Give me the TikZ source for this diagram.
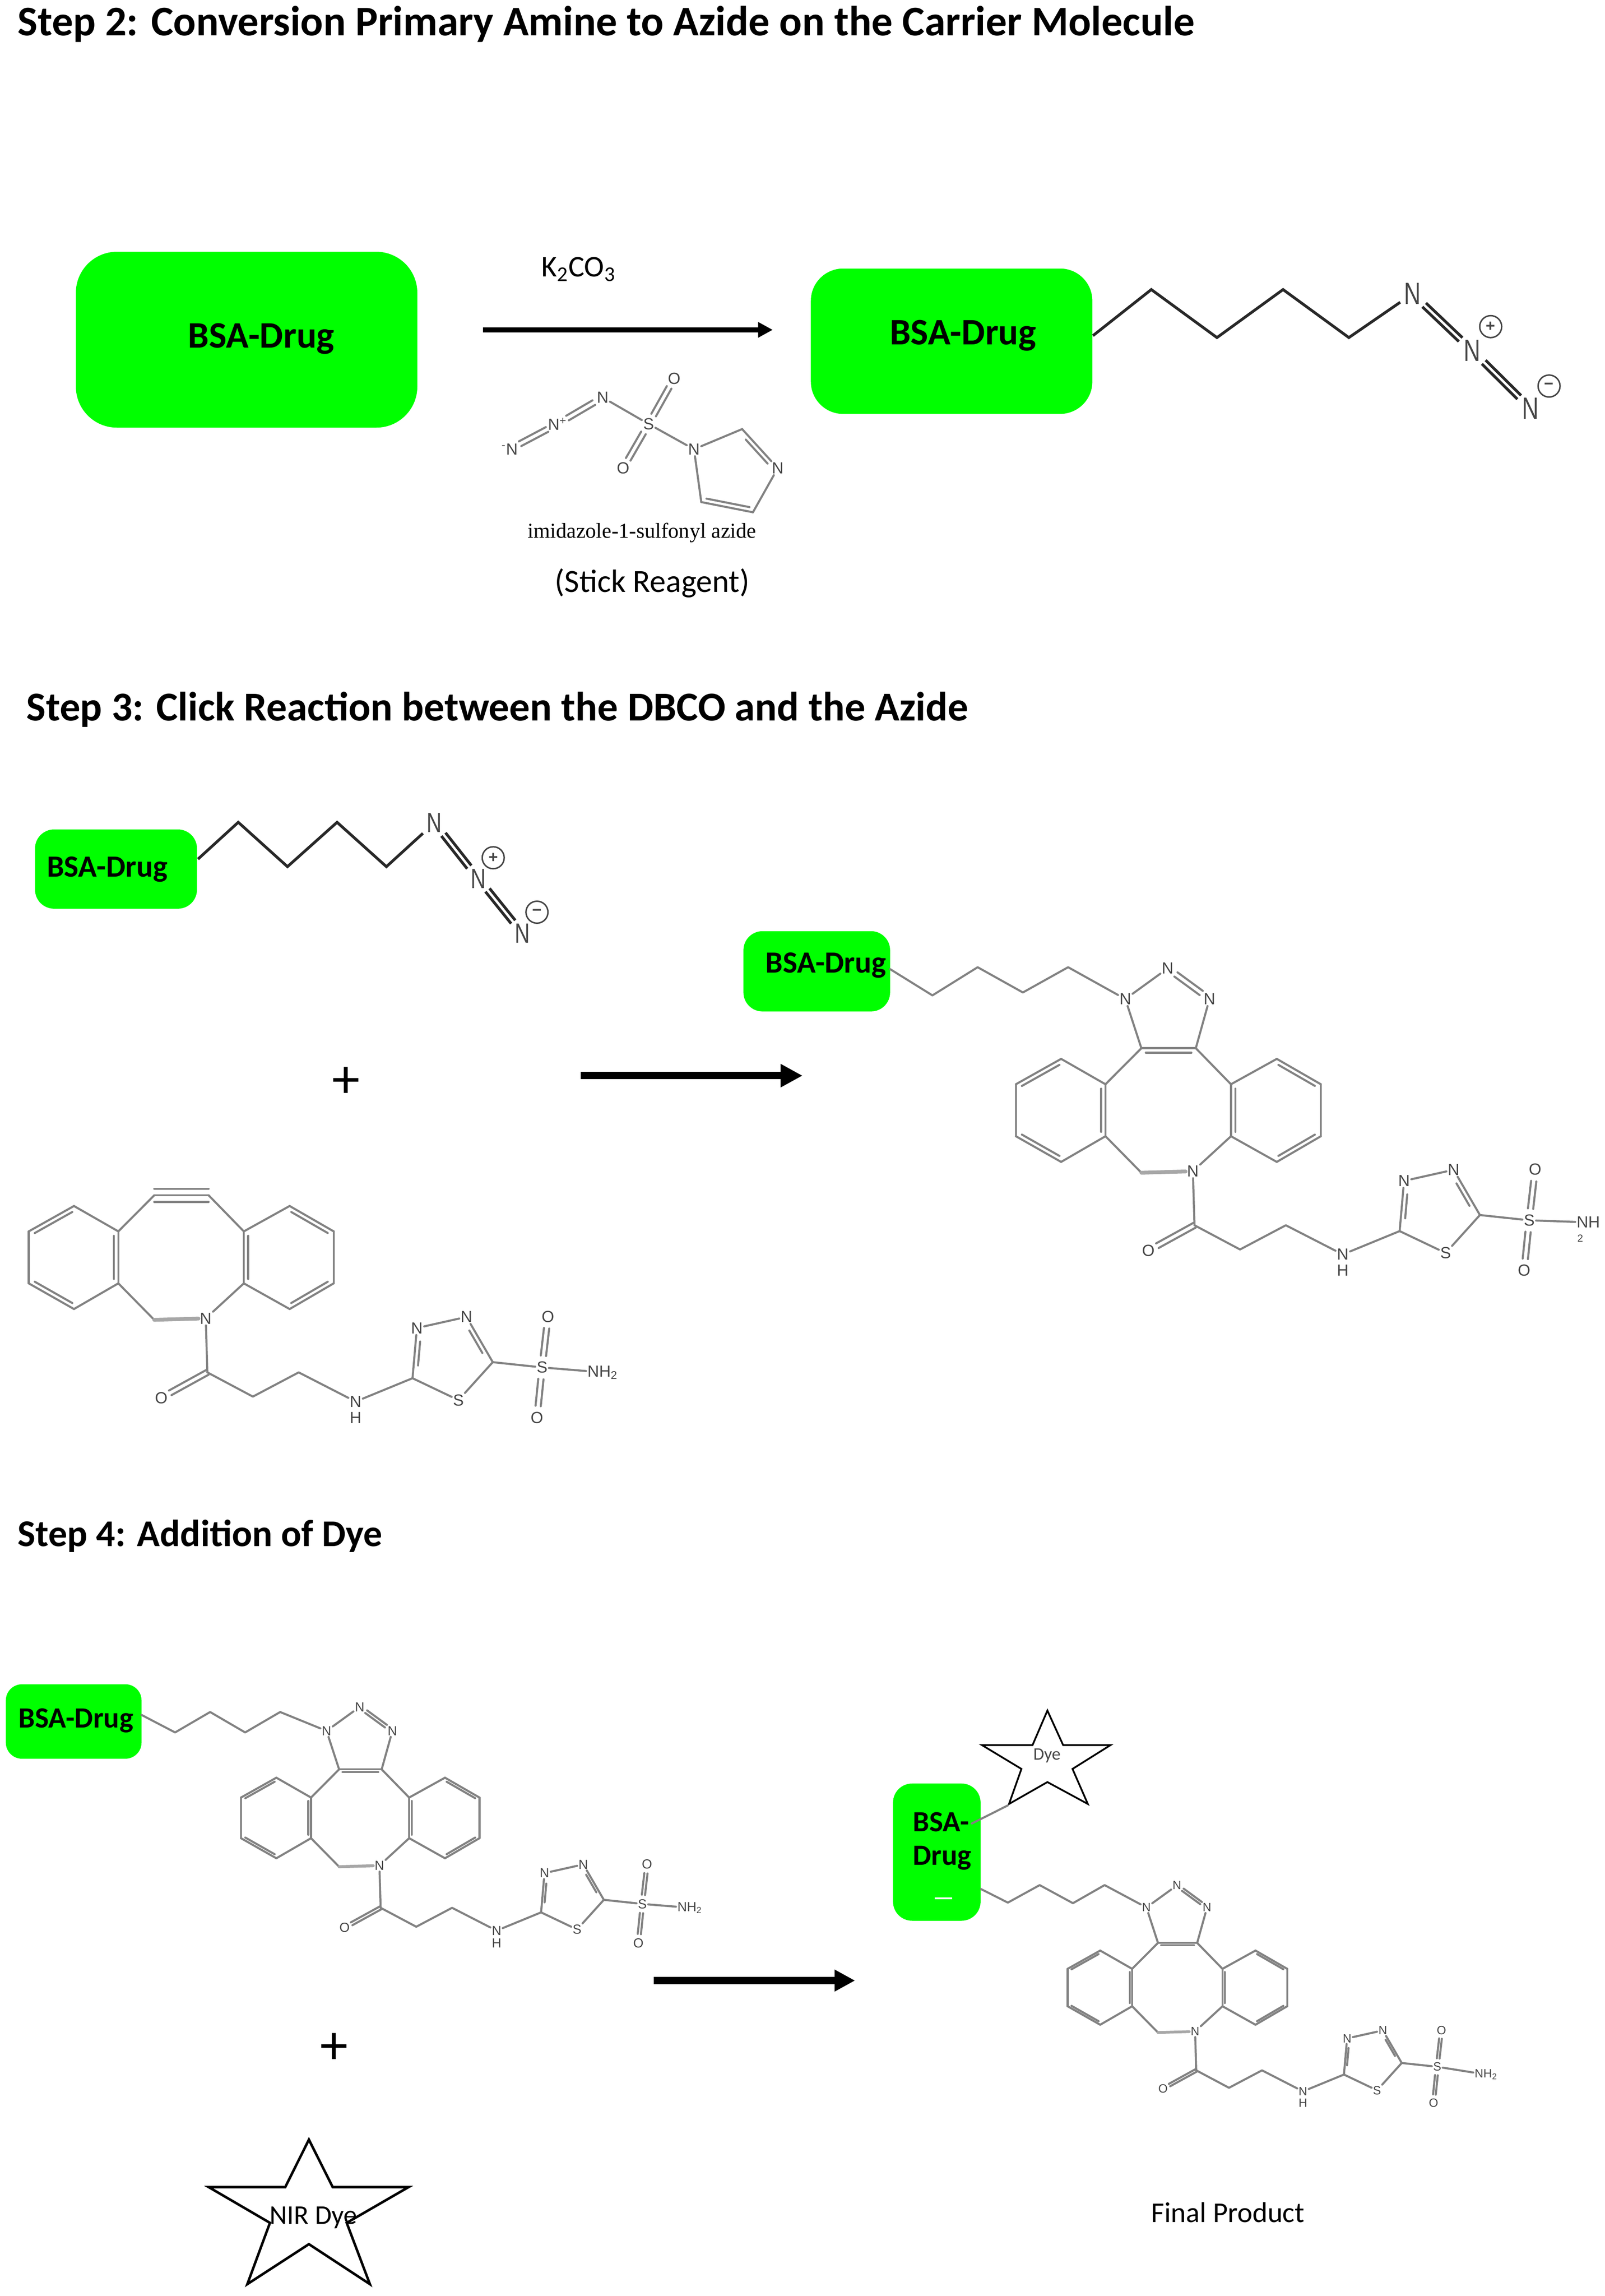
\documentclass[tikz,border=0pt]{standalone}
\usepackage{fontspec}
\setmainfont{Carlito}
\newfontfamily\atomf{Liberation Sans}
\newfontfamily\tallf[FakeStretch=.75]{Liberation Sans}
\newfontfamily\serf{Liberation Serif}
\usetikzlibrary{calc,arrows.meta,fit}
\definecolor{gfp}{RGB}{0,255,0}
\definecolor{bondgray}{RGB}{130,130,130}
\definecolor{atomgray}{RGB}{70,70,70}
\definecolor{darkbond}{RGB}{40,40,40}
\def\molscale{1}
\def\molsep{3pt}
\newcommand\fs[1]{\fontsize{#1}{#1}\selectfont}
\tikzset{
  bond/.style={draw=bondgray,line width=1.4pt,line cap=round,line join=round},
  fatbond/.style={draw=bondgray!70,line width=2.6pt*\molscale},
  azbond/.style={draw=darkbond,line width=1.9pt,line join=miter},
  atom/.style={inner sep=.8pt,text=atomgray,font=\atomf\fs{10}},
  tall/.style={inner sep=2.5pt,text=atomgray,font=\tallf\fs{21}},
  charge/.style={circle,draw=atomgray,line width=1pt,inner sep=0pt,minimum size=15pt,text=atomgray,font=\atomf\bfseries\fs{11}},
  gbox/.style={fill=gfp,draw=none,inner sep=0pt},
  boxtext/.style={inner sep=0pt,font=\bfseries\fs{#1}},
  head/.style={anchor=west,inner sep=0pt,font=\bfseries\fs{#1}},
  plain/.style={inner sep=0pt,font=\fs{#1}},
  star/.style={draw=black,line width=1.7pt,line join=miter,fill=white},
  arr/.style={draw=black,-{Triangle[length=#1pt,width=#1pt]}}
}
% double bond with inner line
\newcommand\dblin[3][3]{%
  \pgfmathsetlengthmacro\tmpsh{#1*\molscale}%
  \draw[bond] (#2)--(#3);
  \draw[bond,shorten <=\tmpsh,shorten >=\tmpsh] ($(#2)!\molsep!90:(#3)$)--($(#3)!\molsep!-90:(#2)$);
}
% symmetric double bond
\newcommand\dblsym[4]{%
  \pgfmathsetlengthmacro\tmpa{#3*\molscale}%
  \pgfmathsetlengthmacro\tmpb{#4*\molscale}%
  \draw[bond,shorten <=\tmpa,shorten >=\tmpb] ($(#1)!.6*\molsep!90:(#2)$)--($(#2)!.6*\molsep!-90:(#1)$);
  \draw[bond,shorten <=\tmpa,shorten >=\tmpb] ($(#1)!-.6*\molsep!90:(#2)$)--($(#2)!-.6*\molsep!-90:(#1)$);
}
% common part of the molecules: benzo rings, amide, thiadiazole; #1 font size, #2 NH2 label body
\newcommand\molcore[2]{%
  \tikzset{atom/.append style={font=\atomf\fs{#1}}}
  \coordinate (a1) at (-90.3,-78); \coordinate (a2) at (-121.3,-60.6);
  \coordinate (a3) at (-121.3,-25); \coordinate (a4) at (-90.3,-7.4);
  \coordinate (a5) at (-59.9,-25); \coordinate (a6) at (-59.9,-60.6);
  \coordinate (b1) at (57.5,-78); \coordinate (b2) at (87.7,-60.6);
  \coordinate (b3) at (87.7,-25); \coordinate (b4) at (57.5,-7.4);
  \coordinate (b5) at (26.1,-25); \coordinate (b6) at (26.1,-60.6);
  \coordinate (c1) at (-35.3,-85.3); \coordinate (c2) at (2,-85.3);
  \coordinate (d) at (-35.3,0);
  \node[atom] (N) at (0,-1) {N};
  \coordinate (e) at (1.1,36);
  \node[atom] (O) at (-30.5,53.4) {O};
  \coordinate (f) at (32.3,52.6); \coordinate (g) at (63.7,36);
  \node[atom] (NH) at (102.7,56) {N};
  \node[atom] (HH) at (102.7,67) {H};
  \coordinate (t1) at (141.7,40);
  \node[atom] (t2) at (144.7,5.6) {N};
  \node[atom] (t3) at (178.7,-2) {N};
  \coordinate (t4) at (196.7,29);
  \node[atom] (t5) at (173.2,55) {S};
  \node[atom] (SS) at (230.5,32.6) {S};
  \node[atom] (Ot) at (234.5,-2.2) {O};
  \node[atom] (Ob) at (227,67) {O};
  #2
  \dblin{a1}{a2} \draw[bond] (a2)--(a3); \dblin{a3}{a4} \draw[bond] (a4)--(a5);
  \dblin{a5}{a6} \draw[bond] (a6)--(a1);
  \dblin{b2}{b1} \draw[bond] (b2)--(b3); \dblin{b4}{b3} \draw[bond] (b4)--(b5);
  \dblin{b6}{b5} \draw[bond] (b6)--(b1);
  \draw[bond] (a6)--(c1); \draw[bond] (c2)--(b6);
  \draw[bond] (a5)--(d); \draw[bond,fatbond] (d)--(N); \draw[bond] (N)--(b5);
  \draw[bond] (N)--(e);
  \dblsym{e}{O}{0}{7}
  \draw[bond] (e)--(f)--(g)--(NH); \draw[bond] (NH)--(t1);
  \dblin[9]{t2}{t1} \draw[bond] (t2)--(t3); \dblin[9]{t4}{t3}
  \draw[bond] (t4)--(t5); \draw[bond] (t5)--(t1);
  \draw[bond] (t4)--(SS);
  \dblsym{SS}{Ot}{8}{8} \dblsym{SS}{Ob}{8}{8}
  \draw[bond] (SS)--(AM);
}
\newcommand\molsetup[1]{\def\molscale{#1}\pgfmathsetlengthmacro\molsep{3pt*#1}}
\newcommand\triazole{%
  \node[atom] (n1) at (-46.3,-119) {N};
  \node[atom] (n2) at (-17.3,-140) {N};
  \node[atom] (n3) at (11.4,-119) {N};
  \draw[bond] (n1)--(n2); \dblsym{n2}{n3}{7}{7}
  \draw[bond] (n1)--(c1); \draw[bond] (n3)--(c2);
  \dblin{c2}{c1}
}
\begin{document}
\begin{tikzpicture}[x=.035cm,y=-.035cm]
\useasboundingbox (0,0) rectangle (1099.714,1573.143);

% ---------- headings
\node[head=28.8] (h2) at (12,16.5) {Step 2: Conversion Primary Amine to Azide on the Carrier Molecule};
\node[head=28] (h3) at (18,486) {Step 3: Click Reaction between the DBCO and the Azide};
\node[head=25.8] (h4) at (12,1052.5) {Step 4: Addition of Dye};

% ---------- Step 2
\node[gbox,rounded corners=28pt,fit={(52,172.5)(286,293)}] (box1) {};
\node[boxtext=25.5] (box1t) at (179,232) {BSA-Drug};
\coordinate (s1) at (331,226); \coordinate (e1) at (529.6,226);
\draw[arr=10,line width=3.5pt] (s1)--(e1);
\node[plain=20.5] (k2co3) at (396.5,184.5) {K\textsubscript{2}CO\textsubscript{3}};

\node[gbox,rounded corners=22pt,fit={(555.7,184)(748.6,283.6)}] (box2) {};
\node[boxtext=25.5] (box2t) at (660,230) {BSA-Drug};
\begin{scope}[bond/.style={azbond}]
  \coordinate (z0) at (749,230);
  \node[tall] (az1) at (968,201.3) {N};
  \node[tall] (az2) at (1009,240.3) {N};
  \node[tall] (az3) at (1049,280) {N};
  \draw[azbond] (z0)--(789,198.4)--(834,231.3)--(879.3,198.4)--(924.4,231.3)--(az1);
  \dblsym{az1}{az2}{11}{11}
  \dblsym{az2}{az3}{11}{11}
\end{scope}
\node[charge] (pl1) at (1021.6,223.8) {+};
\node[charge] (mi1) at (1061.6,264.5) {−};

% reagent
\begin{scope}
  \tikzset{atom/.append style={font=\atomf\fs{11}}}
  \node[atom] (r1) at (349.3,307.8) {\textsuperscript{-}N};
  \node[atom] (r2) at (382,290.5) {N\textsuperscript{+}};
  \node[atom] (r3) at (413,272.3) {N};
  \node[atom] (rS) at (444.5,290.5) {S};
  \node[atom] (rO1) at (462,259.3) {O};
  \node[atom] (rO2) at (427,320.8) {O};
  \node[atom] (rN) at (475.6,307.8) {N};
  \coordinate (rC1) at (508.6,294);
  \node[atom] (rN2) at (533,320.8) {N};
  \coordinate (rC2) at (516,351);
  \coordinate (rC3) at (480.6,344);
  \dblsym{r1}{r2}{8}{8} \dblsym{r2}{r3}{8}{7}
  \draw[bond] (r3)--(rS); \dblsym{rS}{rO1}{7}{7} \dblsym{rS}{rO2}{7}{7}
  \draw[bond] (rS)--(rN); \draw[bond] (rN)--(rC1);
  \dblin[7]{rN2}{rC1} \draw[bond] (rN2)--(rC2); \dblin[3]{rC3}{rC2}
  \draw[bond] (rC3)--(rN);
\end{scope}
\node[plain=14,font=\serf\fs{14.5}] (rname) at (440,365) {imidazole-1-sulfonyl azide};
\node[plain=22] (stick) at (447,399.5) {(Stick Reagent)};

% ---------- Step 3, left
\node[gbox,rounded corners=13pt,fit={(24,568.3)(135,622.6)}] (box3) {};
\node[boxtext=21] (box3t) at (73.5,595.5) {BSA-Drug};
\begin{scope}[bond/.style={azbond}]
  \coordinate (z3) at (135.7,588.6);
  \node[tall,font=\tallf\fs{19}] (bz1) at (297.7,563.8) {N};
  \node[tall,font=\tallf\fs{19}] (bz2) at (327.8,602) {N};
  \node[tall,font=\tallf\fs{19}] (bz3) at (358,639.5) {N};
  \draw[azbond] (z3)--(163.3,563.4)--(197,593.8)--(231,563.4)--(264.8,593.8)--(bz1);
  \dblsym{bz1}{bz2}{10}{10}
  \dblsym{bz2}{bz3}{10}{10}
\end{scope}
\node[charge] (pl2) at (338,587.7) {+};
\node[charge] (mi2) at (368,625) {−};
\node[plain=38] (plus1) at (237,741.5) {+};

\begin{scope}[shift={(141,904.3)},name prefix=A-]
  \molsetup{1}
  \molcore{11}{\node[atom] (AM) at (272,36) {NH\textsubscript{2}};}
  \draw[bond] (c1)--(c2);
  \draw[bond] ($(c1)+(0,-4.5)$)--($(c2)+(0,-4.5)$);
  \draw[bond] ($(c1)+(0,4.5)$)--($(c2)+(0,4.5)$);
\end{scope}

\coordinate (s2) at (398,737); \coordinate (e2) at (550,737);
\draw[arr=15,line width=5pt] (s2)--(e2);

% ---------- Step 3, right
\node[gbox,rounded corners=13pt,fit={(509.5,638)(610,693)}] (box4) {};
\node[boxtext=21] (box4t) at (566,661.5) {BSA-Drug};
\begin{scope}[shift={(817.5,803.5)},name prefix=B-]
  \molsetup{1}
  \molcore{11}{\node[atom] (AM) at (271,34) {NH};}
  \node[atom,font=\atomf\fs{7}] (AM2) at (265.5,45) {2};
  \triazole
\end{scope}
\coordinate (z4) at (610,664);
\draw[bond] (z4)--(639,682)--(670,662.7)--(701,680)--(732,662.7)--(B-n1);

% ---------- Step 4, left
\node[gbox,rounded corners=11pt,fit={(4,1154)(97,1205)}] (box5) {};
\node[boxtext=20] (box5t) at (52,1179) {BSA-Drug};
\begin{scope}[shift={(260,1279)},scale=.782,name prefix=C-]
  \molsetup{.782}
  \molcore{9}{\node[atom] (AM) at (272,36) {NH\textsubscript{2}};}
  \triazole
\end{scope}
\coordinate (z5) at (97,1175);
\draw[bond] (z5)--(120,1187)--(144,1173)--(168,1187)--(192,1173)--(C-n1);
\node[plain=38] (plus2) at (229,1403.5) {+};

\path[star] (211.7,1466)--(228,1498.5)--(280,1498.5)--(237.6,1523)--(253.5,1565)--(211.7,1537.6)--(169.5,1565)--(185,1523)--(143,1498.5)--(195.5,1498.5)--cycle;
\node[plain=18.5] (nir) at (214.8,1519.5) {NIR Dye};

\coordinate (s3) at (448,1357); \coordinate (e3) at (586,1357);
\draw[arr=14,line width=5pt] (s3)--(e3);

% ---------- Step 4, right
\path[star,line width=1.2pt] (717.8,1172)--(728.6,1195.7)--(761,1195.7)--(735,1212)--(745.5,1236)--(717.8,1221)--(691.5,1236)--(700,1212)--(673,1195.7)--(707.6,1195.7)--cycle;
\node[plain=12,text=atomgray] (dye) at (717.5,1203) {Dye};
\node[gbox,rounded corners=13pt,fit={(612,1222)(672,1316)}] (box6) {};
\node[inner sep=0pt,align=left,font=\bfseries\fs{20},anchor=north west] (box6t) at (625.5,1241.5) {BSA-\\[3pt]Drug};
\draw[white,line width=1.4pt] (640.5,1300.7)--(652.5,1300.7);
\coordinate (dy) at (690.7,1237);
\coordinate (dx) at (666,1249.4);
\draw[bond] (dy)--(dx);

\begin{scope}[shift={(819,1392.6)},scale=.72,name prefix=D-]
  \molsetup{.72}
  \molcore{8.2}{\node[atom] (AM) at (277,40) {NH\textsubscript{2}};}
  \triazole
\end{scope}
\coordinate (z6) at (672.3,1294.3);
\draw[bond] (z6)--(690.7,1303.6)--(712.5,1291.6)--(735.3,1304)--(757,1291.6)--(D-n1);
\node[plain=19.6] (final) at (841.5,1516) {Final Product};
\end{tikzpicture}
\end{document}
